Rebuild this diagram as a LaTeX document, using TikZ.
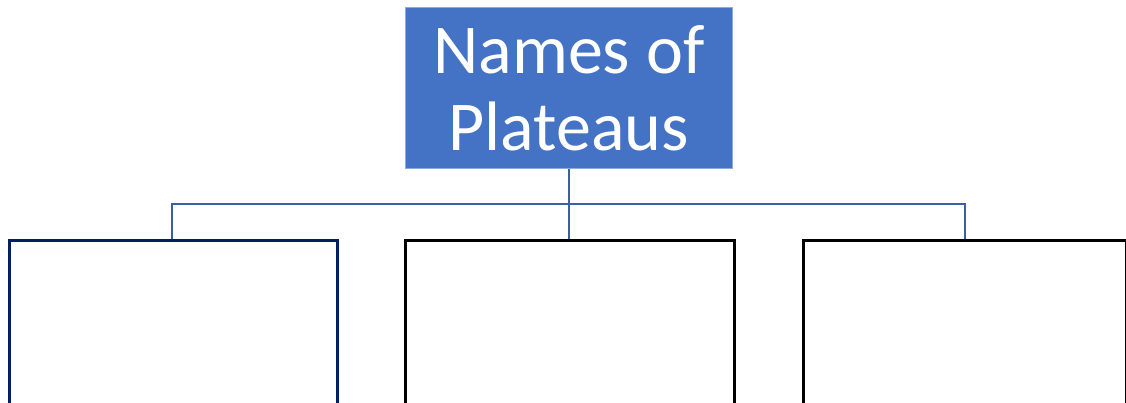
\documentclass[tikz,border=0pt]{standalone}
\usepackage{fontspec}
\setmainfont{Carlito}
\definecolor{topblue}{HTML}{4472C4}
\definecolor{topedge}{HTML}{8FAADC}
\definecolor{linkblue}{HTML}{3B5FA6}
\definecolor{navy}{HTML}{002060}
\begin{document}
\begin{tikzpicture}[x=1pt,y=-1pt,
  topbox/.style={fill=topblue,draw=topedge,line width=0.8pt,inner sep=0pt,text=white,align=center},
  leafbox/.style={draw=black,line width=2.6pt,fill=white},
  link/.style={draw=linkblue,line width=2pt}]
\useasboundingbox (0,0) rectangle (1126,403);
\fill[white] (0,0) rectangle (1126,403);
% top box
\node[topbox,minimum width=327pt,minimum height=161pt,anchor=north west,
  font=\fontsize{70}{77}\selectfont] (top) at (405,7.5) {Names of\\Plateaus};
% leaf boxes
\node[leafbox,draw=navy,minimum width=328pt,minimum height=164pt,anchor=north west] (left) at (8,239) {};
\node[leafbox,minimum width=329pt,minimum height=164pt,anchor=north west] (mid) at (404,239) {};
\node[leafbox,minimum width=323pt,minimum height=164pt,anchor=north west] (right) at (802,239) {};
% connectors
\coordinate (bus) at (569,204);
\draw[link] (top.south -| bus) -- (mid.north -| bus);
\draw[link] (left.north -| 172,0) |- (bus) -| (right.north -| 965,0);
\end{tikzpicture}
\end{document}
